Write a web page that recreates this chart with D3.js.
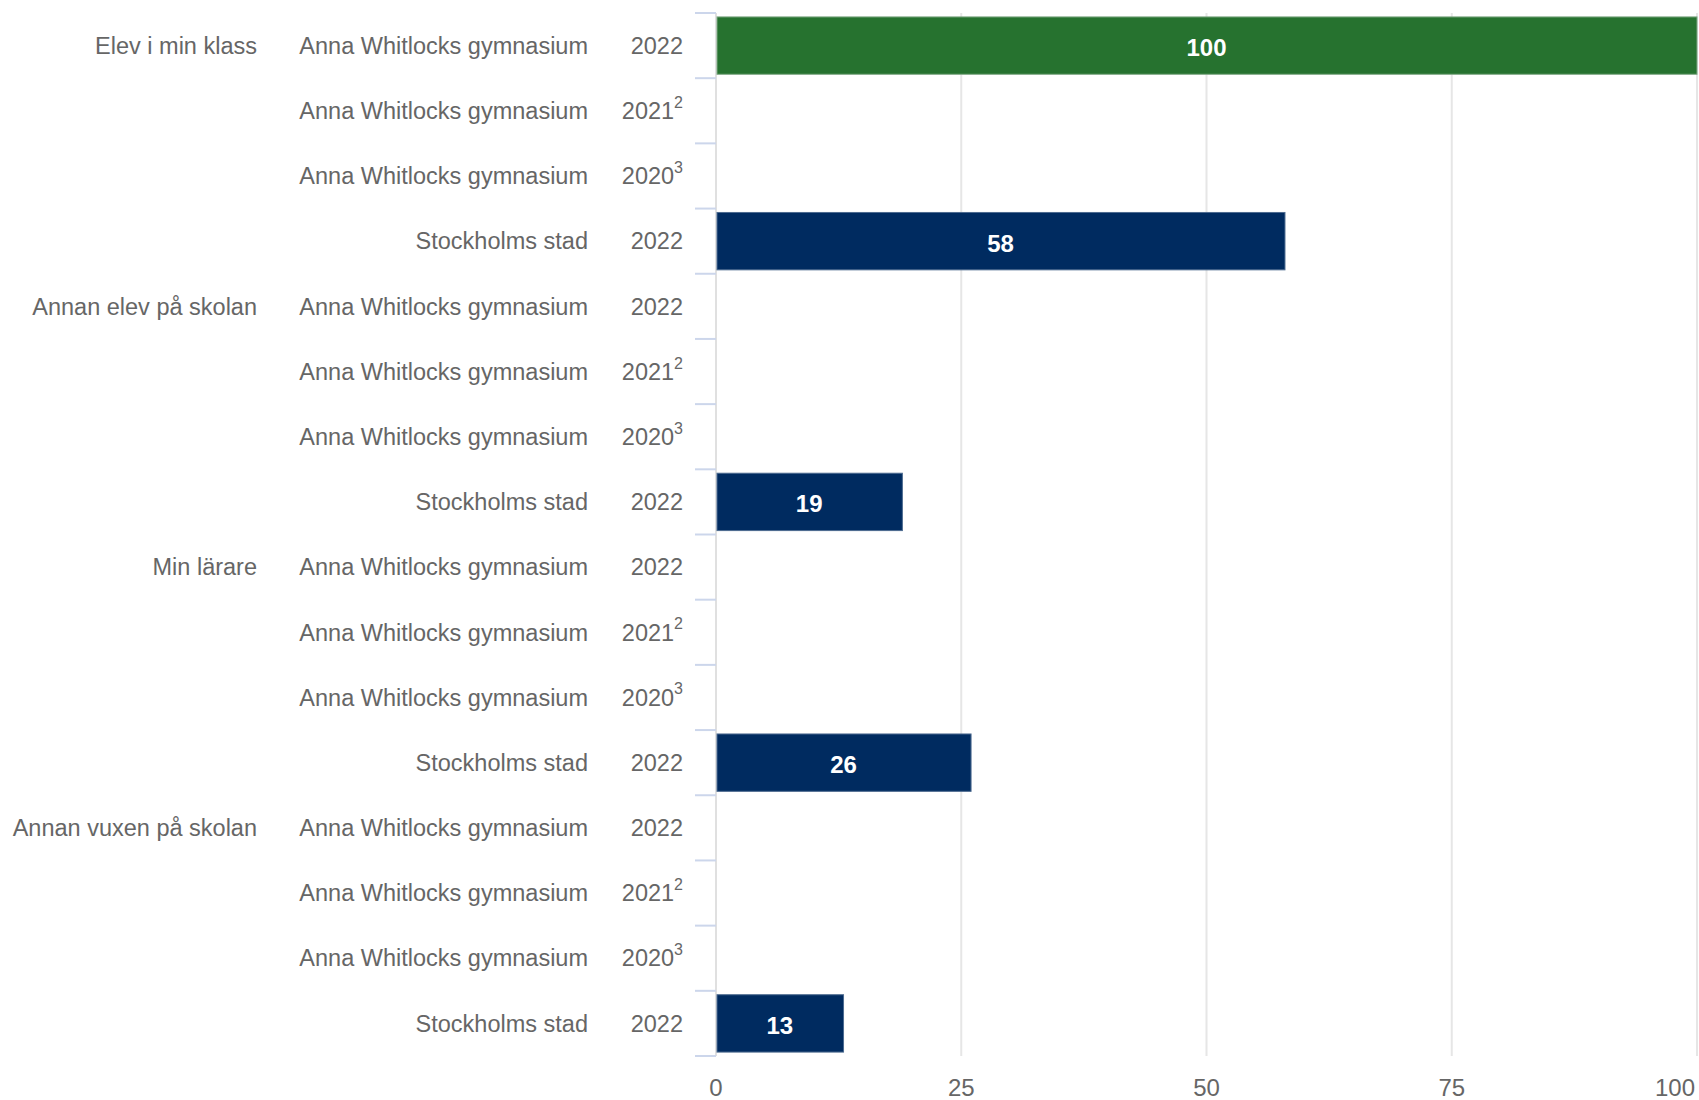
<!DOCTYPE html>
<html>
<head>
<meta charset="utf-8">
<script src="https://cdn.jsdelivr.net/npm/d3@7"></script>
<style>
  body { margin: 0; background: #fff; }
  text { font-family: "Liberation Sans", Arial, sans-serif; }
</style>
</head>
<body>
<div id="chart"></div>
<script>
// data
var groups = ["Elev i min klass", "Annan elev på skolan", "Min lärare", "Annan vuxen på skolan"];
var units = ["Anna Whitlocks gymnasium", "Anna Whitlocks gymnasium", "Anna Whitlocks gymnasium", "Stockholms stad"];
var years = ["2022", "2021", "2020", "2022"];
var yearNotes = ["", "2", "3", ""];
var seriesValues = [
  [100, null, null, 58],
  [null, null, null, 19],
  [null, null, null, 26],
  [null, null, null, 13]
];
var xTicks = [0, 25, 50, 75, 100];

var rows = [];
groups.forEach(function (g, gi) {
  units.forEach(function (u, ui) {
    rows.push({ id: gi + "-" + ui, group: ui === 0 ? g : "", unit: u, year: years[ui], note: yearNotes[ui],
      value: seriesValues[gi][ui], school: ui === 0 });
  });
});

// set the dimensions and margins of the graph
var margin = { top: 13, right: 2, bottom: 44, left: 716 },
  width = 1699 - margin.left - margin.right,
  height = 1100 - margin.top - margin.bottom;

var svg = d3.select("#chart")
  .append("svg")
  .attr("width", 1699)
  .attr("height", 1100)
  .append("g")
  .attr("transform", "translate(" + margin.left + "," + margin.top + ")");

var x = d3.scaleLinear().domain([0, 100]).range([0, width]);
var y = d3.scaleBand()
  .domain(rows.map(function (d) { return d.id; }))
  .range([0, height])
  .paddingInner(0.12)
  .paddingOuter(0.06);

// grid lines
svg.append("g")
  .selectAll("line")
  .data(xTicks.slice(1))
  .enter()
  .append("line")
  .attr("x1", function (d) { return x(d); })
  .attr("x2", function (d) { return x(d); })
  .attr("y1", 0)
  .attr("y2", height)
  .attr("stroke", "#e6e6e6")
  .attr("stroke-width", 2);

// y axis line + ticks between categories
svg.append("line")
  .attr("x1", 0).attr("x2", 0)
  .attr("y1", 0).attr("y2", height)
  .attr("stroke", "#e0e0e0")
  .attr("stroke-width", 2);

svg.append("g")
  .selectAll("line")
  .data(d3.range(rows.length + 1))
  .enter()
  .append("line")
  .attr("x1", -21)
  .attr("x2", 0)
  .attr("y1", function (i) { return i * height / rows.length; })
  .attr("y2", function (i) { return i * height / rows.length; })
  .attr("stroke", "#ccd6eb")
  .attr("stroke-width", 2);

// bars
var bars = rows.filter(function (d) { return d.value != null; });
svg.append("g")
  .selectAll("rect")
  .data(bars)
  .enter()
  .append("rect")
  .attr("x", 1)
  .attr("y", function (d) { return y(d.id); })
  .attr("width", function (d) { return x(d.value) - 1; })
  .attr("height", y.bandwidth())
  .attr("fill", function (d) { return d.school ? "#26722f" : "#002b60"; })
  .attr("stroke", function (d) { return d.school ? "#7fa884" : "#4d6b90"; })
  .attr("stroke-width", 1);

svg.append("g")
  .selectAll("text")
  .data(bars)
  .enter()
  .append("text")
  .attr("x", function (d) { return x(d.value) / 2; })
  .attr("y", function (d) { return y(d.id) + y.bandwidth() / 2 + 2; })
  .attr("dy", "0.35em")
  .attr("text-anchor", "middle")
  .attr("fill", "#fff")
  .attr("font-weight", "bold")
  .attr("font-size", "24px")
  .text(function (d) { return d.value; });

// category labels (three columns)
var labels = svg.append("g")
  .attr("fill", "#666")
  .attr("font-size", "23.5px");

labels.selectAll(".grp")
  .data(rows)
  .enter()
  .append("text")
  .attr("class", "grp")
  .attr("x", 257 - margin.left)
  .attr("y", function (d) { return y(d.id) + y.bandwidth() / 2; })
  .attr("dy", "0.35em")
  .attr("text-anchor", "end")
  .text(function (d) { return d.group; });

labels.selectAll(".unit")
  .data(rows)
  .enter()
  .append("text")
  .attr("class", "unit")
  .attr("x", 588 - margin.left)
  .attr("y", function (d) { return y(d.id) + y.bandwidth() / 2; })
  .attr("dy", "0.35em")
  .attr("text-anchor", "end")
  .text(function (d) { return d.unit; });

var yr = labels.selectAll(".year")
  .data(rows)
  .enter()
  .append("text")
  .attr("class", "year")
  .attr("x", 683 - margin.left)
  .attr("y", function (d) { return y(d.id) + y.bandwidth() / 2; })
  .attr("dy", "0.35em")
  .attr("text-anchor", "end");
yr.append("tspan").text(function (d) { return d.year; });
yr.append("tspan")
  .attr("font-size", "16px")
  .attr("dy", "-0.7em")
  .text(function (d) { return d.note; });

// x axis labels
svg.append("g")
  .selectAll("text")
  .data(xTicks)
  .enter()
  .append("text")
  .attr("x", function (d, i) { return i === xTicks.length - 1 ? x(d) - 2 : x(d); })
  .attr("y", height + 32)
  .attr("dy", "0.35em")
  .attr("text-anchor", function (d, i) { return i === xTicks.length - 1 ? "end" : "middle"; })
  .attr("fill", "#666")
  .attr("font-size", "24px")
  .text(function (d) { return d; });
</script>
</body>
</html>
